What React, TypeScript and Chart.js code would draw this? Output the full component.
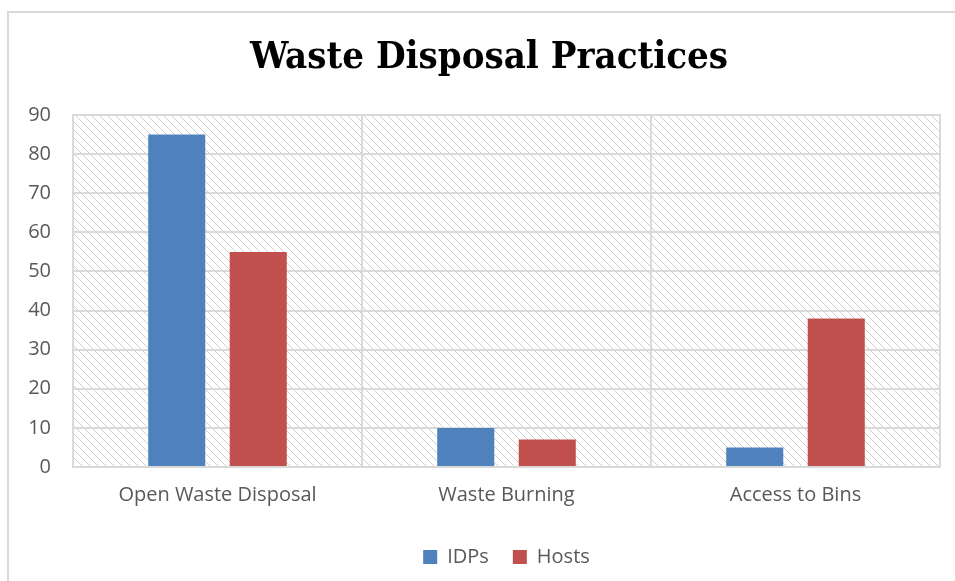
import React, { useEffect, useRef } from "react";
import { Chart, registerables } from "chart.js";

Chart.register(...registerables);

const categories = ["Open Waste Disposal", "Waste Burning", "Access to Bins"];
const idpsValues = [85, 10, 5];
const hostsValues = [55, 7, 38];
const yTicks = [0, 10, 20, 30, 40, 50, 60, 70, 80, 90];
const titleText = "Waste Disposal Practices";

const FONT = "'Open Sans', 'Noto Sans', sans-serif";
const GRID = "#d9d9d9";

const framePlugin = {
  id: "frame",
  afterLayout(chart: any) {
    const lg = chart.legend;
    if (lg) {
      const shift = (chart.chartArea.left + chart.chartArea.right) / 2 - (lg.left + lg.right) / 2;
      lg.left += shift;
      lg.right += shift;
    }
  },
  beforeDraw(chart: any) {
    const { ctx, chartArea, width, height } = chart;
    ctx.save();
    ctx.fillStyle = "#ffffff";
    ctx.fillRect(0, 0, width, height);
    ctx.strokeStyle = "#d9d9d9";
    ctx.lineWidth = 2;
    ctx.beginPath();
    ctx.moveTo(8, height + 5);
    ctx.lineTo(8, 12);
    ctx.lineTo(width + 5, 12);
    ctx.stroke();
    const tile = document.createElement("canvas");
    tile.width = 8;
    tile.height = 8;
    const t = tile.getContext("2d")!;
    t.fillStyle = "#ffffff";
    t.fillRect(0, 0, 8, 8);
    t.fillStyle = "#cfcfcf";
    for (let i = 0; i < 8; i += 1) t.fillRect(i, i, 1, 1);
    const pat = ctx.createPattern(tile, "repeat");
    if (pat) {
      ctx.fillStyle = pat;
      ctx.fillRect(chartArea.left, chartArea.top, chartArea.right - chartArea.left, chartArea.bottom - chartArea.top);
    }
    ctx.fillStyle = "#000000";
    ctx.font = "bold 38px 'DejaVu Serif Condensed', 'DejaVu Serif', serif";
    ctx.textAlign = "center";
    ctx.textBaseline = "alphabetic";
    ctx.fillText(titleText, 489, 68);
    ctx.restore();
  },
  afterDatasetsDraw(chart: any) {
    const { ctx, chartArea } = chart;
    ctx.save();
    ctx.strokeStyle = GRID;
    ctx.lineWidth = 2;
    ctx.strokeRect(chartArea.left, chartArea.top, chartArea.right - chartArea.left, chartArea.bottom - chartArea.top);
    ctx.restore();
  },
};

export default function App() {
  const ref = useRef<HTMLCanvasElement>(null);
  useEffect(() => {
    if (!ref.current) return;
    const chart = new Chart(ref.current, {
      type: "bar",
      data: {
        labels: categories,
        datasets: [
          {
            label: "IDPs",
            data: idpsValues,
            backgroundColor: "#4f81bd",
            categoryPercentage: 0.564,
            barPercentage: 0.7,
          },
          {
            label: "Hosts",
            data: hostsValues,
            backgroundColor: "#c0504d",
            categoryPercentage: 0.564,
            barPercentage: 0.7,
          },
        ],
      },
      options: {
        animation: false,
        responsive: false,
        maintainAspectRatio: false,
        layout: { padding: { left: 8, right: 15, top: 115, bottom: 4 } },
        plugins: {
          title: { display: false, text: titleText },
          legend: {
            position: "bottom",
            labels: {
              boxWidth: 14,
              boxHeight: 14,
              color: "#595959",
              font: { family: FONT, size: 20 },
              padding: 24,
            },
          },
          tooltip: { enabled: false },
        },
        scales: {
          x: {
            grid: { color: GRID, lineWidth: 2, drawTicks: false, offset: true },
            border: { display: false },
            ticks: { color: "#595959", font: { family: FONT, size: 20 }, padding: 16 },
          },
          y: {
            min: 0,
            max: 90,
            afterBuildTicks: (s: any) => {
              s.ticks = yTicks.map((v) => ({ value: v }));
            },
            afterFit: (s: any) => {
              s.width = 65;
            },
            grid: { color: GRID, lineWidth: 2, drawTicks: false },
            border: { display: false },
            ticks: { color: "#595959", font: { family: FONT, size: 20 }, padding: 22 },
          },
        },
      },
      plugins: [framePlugin],
    });
    return () => chart.destroy();
  }, []);
  return (
    <div style={{ position: "fixed", left: 0, top: 0, width: 955, height: 581 }}>
      <canvas ref={ref} width={955} height={581} style={{ width: 955, height: 581 }} />
    </div>
  );
}
